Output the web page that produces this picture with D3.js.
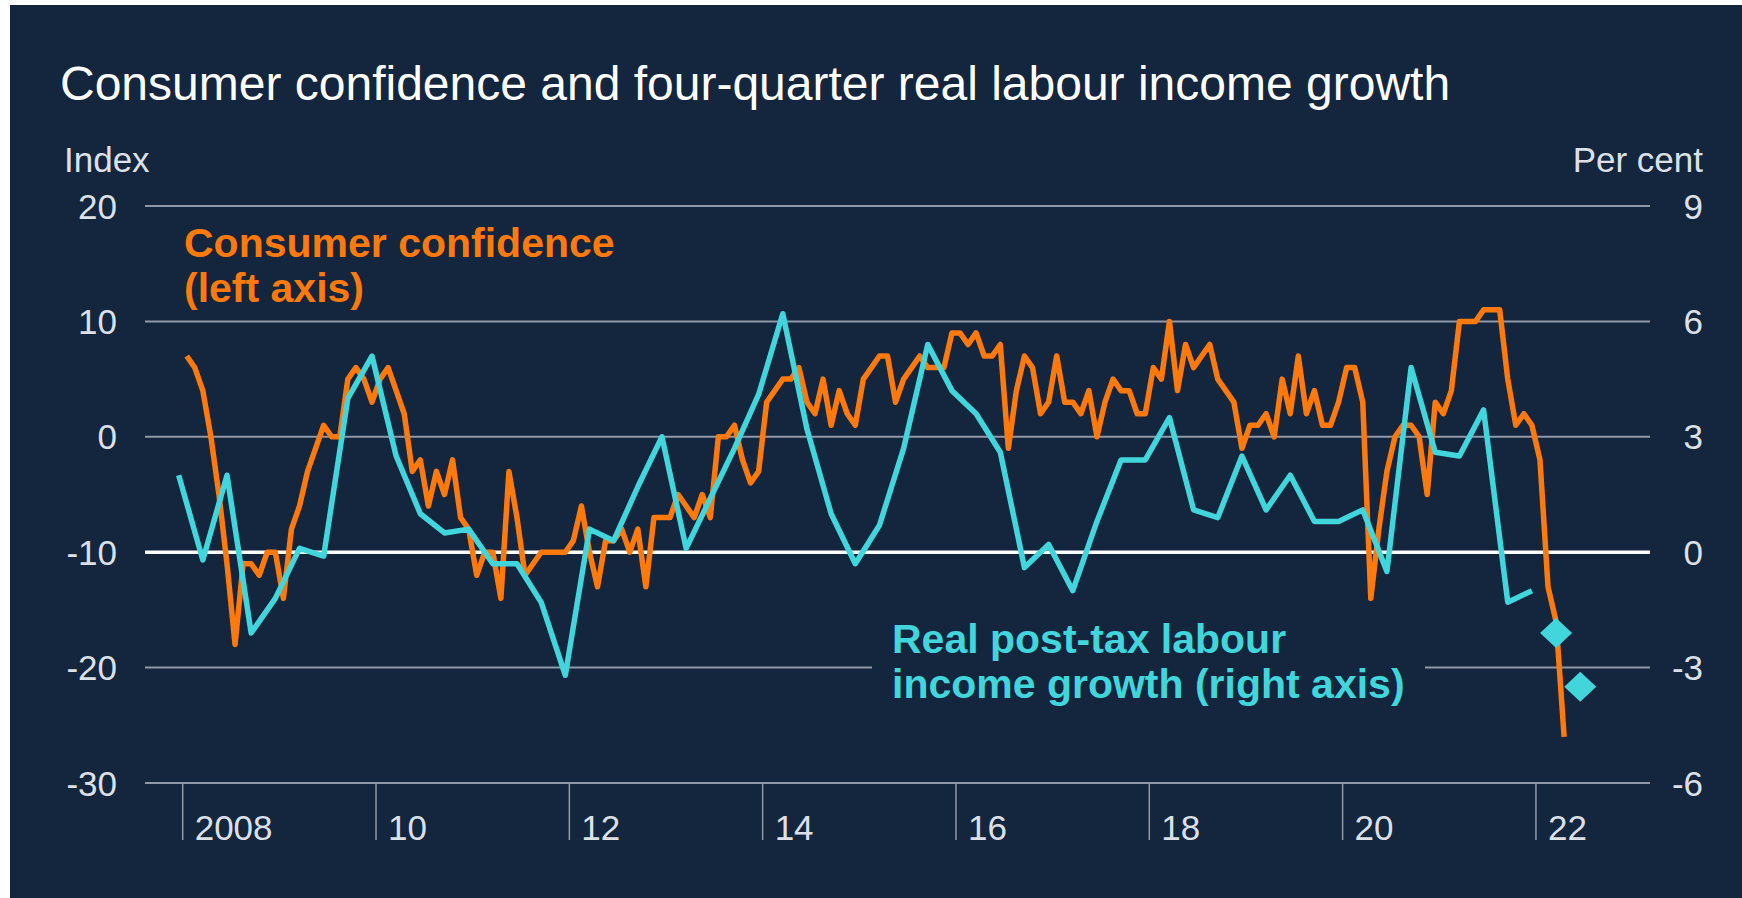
<!DOCTYPE html>
<html>
<head>
<meta charset="utf-8">
<script src="https://cdn.jsdelivr.net/npm/d3@7"></script>
<style>
  body { margin: 0; background: #ffffff; }
  svg { display: block; }
  text { font-family: "Liberation Sans", Arial, sans-serif; }
</style>
</head>
<body>
<div id="wrapper"></div>
<script>
// consumer confidence, monthly from Jan 2008 (index, left axis)
const consumerConfidence = [
  7, 6, 4, 0, -5, -11, -18, -11, -11, -12, -10, -10,
  -14, -8, -6, -3, -1, 1, 0, 0, 5, 6, 5, 3,
  5, 6, 4, 2, -3, -2, -6, -3, -5, -2, -7, -8,
  -12, -10, -10, -14, -3, -7, -12, -11, -10, -10, -10, -10,
  -9, -6, -10, -13, -9, -9, -8, -10, -8, -13, -7, -7,
  -7, -5, -6, -7, -5, -7, 0, 0, 1, -2, -4, -3,
  3, 4, 5, 5, 6, 3, 2, 5, 1, 4, 2, 1,
  5, 6, 7, 7, 3, 5, 6, 7, 6, 6, 6, 9,
  9, 8, 9, 7, 7, 8, -1, 4, 7, 6, 2, 3,
  7, 3, 3, 2, 4, 0, 3, 5, 4, 4, 2, 2,
  6, 5, 10, 4, 8, 6, 7, 8, 5, 4, 3, -1,
  1, 1, 2, 0, 5, 2, 7, 2, 4, 1, 1, 3,
  6, 6, 3, -14, -8, -3, 0, 1, 1, 0, -5, 3,
  2, 4, 10, 10, 10, 11, 11, 11, 5, 1, 2, 1,
  -2, -13, -16, -26
]

// real post-tax labour income growth, quarterly from Q4 2007 (per cent, right axis)
const labourIncome = [
  2.0, -0.2, 2.0, -2.1, -1.2, 0.1, -0.1, 4.0, 5.1, 2.5, 1.0, 0.5,
  0.6, -0.3, -0.3, -1.3, -3.2, 0.6, 0.3, 1.7, 3.0, 0.1, 1.4, 2.7,
  4.1, 6.2, 3.2, 1.0, -0.3, 0.7, 2.7, 5.4, 4.2, 3.6, 2.6, -0.4,
  0.2, -1.0, 0.8, 2.4, 2.4, 3.5, 1.1, 0.9, 2.5, 1.1, 2.0, 0.8,
  0.8, 1.1, -0.5, 4.8, 2.6, 2.5, 3.7, -1.3, -1.0
]
// forecasts for Q1 and Q2 2022
const labourForecast = [-2.1, -3.5]

const leftTicks = [-30, -20, -10, 0, 10, 20]
const rightTicks = [-6, -3, 0, 3, 6, 9]
const yearTicks = [2008, 2010, 2012, 2014, 2016, 2018, 2020, 2022]
const yearLabels = ["2008", "10", "12", "14", "16", "18", "20", "22"]

const navy = "#14253e"
const orange = "#ff7a0a"
const cyan = "#40d6dc"
const grid = "#8f99a8"
const labelGrey = "#dde1e7"

// month position: centre of month i counted from Jan 2008
const monthTime = i => 2008 + (i + 0.5) / 12
// quarterly points sit on the last month of each quarter, first one Q4 2007
const quarterTime = k => monthTime(3 * k - 1)

const ccData = consumerConfidence.map((v, i) => ({t: monthTime(i), v}))
const liData = labourIncome.map((v, k) => ({t: quarterTime(k), v}))
const fcData = labourForecast.map((v, j) => ({t: quarterTime(labourIncome.length + j), v}))

const dimensions = {
  width: 1742,
  height: 898,
  plotLeft: 145,
  plotRight: 1650,
  plotTop: 206,
  plotBottom: 783,
}

const svg = d3.select("#wrapper")
  .append("svg")
    .attr("width", dimensions.width)
    .attr("height", dimensions.height)

svg.append("rect")
    .attr("x", 10)
    .attr("y", 5)
    .attr("width", dimensions.width - 10)
    .attr("height", dimensions.height - 5)
    .attr("fill", navy)

// scales
const x = d3.scaleLinear()
  .domain([2007.61, 2023.18])
  .range([dimensions.plotLeft, dimensions.plotRight])
const yLeft = d3.scaleLinear()
  .domain([-30, 20])
  .range([dimensions.plotBottom, dimensions.plotTop])
const yRight = d3.scaleLinear()
  .domain([-6, 9])
  .range([dimensions.plotBottom, dimensions.plotTop])

// gridlines
svg.append("g")
  .selectAll("line")
  .data(leftTicks.filter(d => d !== -10))
  .join("line")
    .attr("x1", dimensions.plotLeft)
    .attr("x2", dimensions.plotRight)
    .attr("y1", d => yLeft(d))
    .attr("y2", d => yLeft(d))
    .attr("stroke", grid)
    .attr("stroke-width", 2)

// year ticks below the axis
svg.append("g")
  .selectAll("line")
  .data(yearTicks)
  .join("line")
    .attr("x1", d => x(d))
    .attr("x2", d => x(d))
    .attr("y1", dimensions.plotBottom)
    .attr("y2", dimensions.plotBottom + 57)
    .attr("stroke", grid)
    .attr("stroke-width", 1.5)

svg.append("g")
  .selectAll("text")
  .data(yearTicks)
  .join("text")
    .attr("x", d => x(d) + 12)
    .attr("y", dimensions.plotBottom + 57)
    .attr("fill", labelGrey)
    .style("font-size", "35px")
    .text((d, i) => yearLabels[i])

// label for the labour income series hides the gridline behind it
svg.append("rect")
    .attr("x", 872)
    .attr("y", 612)
    .attr("width", 553)
    .attr("height", 100)
    .attr("fill", navy)

// white zero line (right axis)
svg.append("line")
    .attr("x1", dimensions.plotLeft)
    .attr("x2", dimensions.plotRight)
    .attr("y1", yRight(0))
    .attr("y2", yRight(0))
    .attr("stroke", "#ffffff")
    .attr("stroke-width", 3.5)

// axis labels
svg.append("g")
  .selectAll("text")
  .data(leftTicks)
  .join("text")
    .attr("x", 117)
    .attr("y", d => yLeft(d) + 12.5)
    .attr("text-anchor", "end")
    .attr("fill", labelGrey)
    .style("font-size", "35px")
    .text(d => d)

svg.append("g")
  .selectAll("text")
  .data(rightTicks)
  .join("text")
    .attr("x", 1703)
    .attr("y", d => yRight(d) + 12.5)
    .attr("text-anchor", "end")
    .attr("fill", labelGrey)
    .style("font-size", "35px")
    .text(d => d)

svg.append("text")
    .attr("x", 64)
    .attr("y", 172)
    .attr("fill", labelGrey)
    .style("font-size", "35px")
    .text("Index")

svg.append("text")
    .attr("x", 1703)
    .attr("y", 172)
    .attr("text-anchor", "end")
    .attr("fill", labelGrey)
    .style("font-size", "35px")
    .text("Per cent")

// title
svg.append("text")
    .attr("x", 60)
    .attr("y", 100)
    .attr("fill", "#ffffff")
    .style("font-size", "48px")
    .text("Consumer confidence and four-quarter real labour income growth")

// lines
const ccLine = d3.line()
  .x(d => x(d.t))
  .y(d => yLeft(d.v))
const liLine = d3.line()
  .x(d => x(d.t))
  .y(d => yRight(d.v))

svg.append("path")
    .datum(ccData)
    .attr("d", ccLine)
    .attr("fill", "none")
    .attr("stroke", orange)
    .attr("stroke-width", 5.5)
    .attr("stroke-linejoin", "round")

svg.append("path")
    .datum(liData)
    .attr("d", liLine)
    .attr("fill", "none")
    .attr("stroke", cyan)
    .attr("stroke-width", 5.5)
    .attr("stroke-linejoin", "round")

const diamond = (cx, cy) => `M${cx - 16},${cy} L${cx},${cy - 15} L${cx + 16},${cy} L${cx},${cy + 15} Z`
svg.append("g")
  .selectAll("path")
  .data(fcData)
  .join("path")
    .attr("d", d => diamond(x(d.t), yRight(d.v)))
    .attr("fill", cyan)

// series labels
const ccLabel = svg.append("text")
    .attr("fill", orange)
    .style("font-size", "41px")
    .style("font-weight", "bold")
ccLabel.append("tspan").attr("x", 184).attr("y", 257).text("Consumer confidence")
ccLabel.append("tspan").attr("x", 184).attr("y", 302).text("(left axis)")

const liLabel = svg.append("text")
    .attr("fill", cyan)
    .style("font-size", "41px")
    .style("font-weight", "bold")
liLabel.append("tspan").attr("x", 892).attr("y", 653).text("Real post-tax labour")
liLabel.append("tspan").attr("x", 892).attr("y", 698).text("income growth (right axis)")
</script>
</body>
</html>
